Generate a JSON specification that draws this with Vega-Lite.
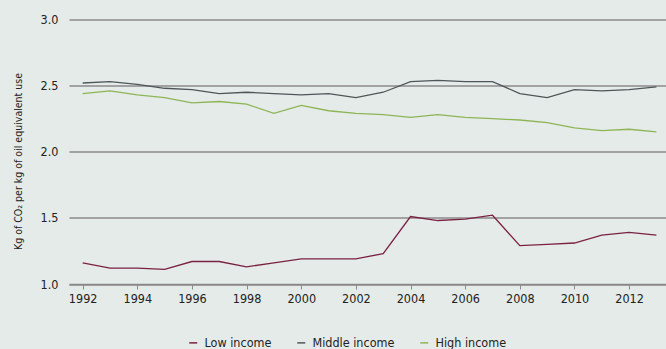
{
  "$schema": "https://vega.github.io/schema/vega-lite/v6.json",
  "autosize": {"type": "none"},
  "width": 597,
  "height": 264.5,
  "padding": {"left": 69, "top": 19.5, "right": 0, "bottom": 65},
  "background": "#e5ebe8",
  "config": {
    "font": "DejaVu Sans Condensed, Roboto",
    "view": {"stroke": null},
    "axis": {"labelFont": "DejaVu Sans Condensed, Roboto", "titleFont": "DejaVu Sans Condensed, Roboto", "labelColor": "#222", "titleColor": "#222"},
    "legend": {"labelFont": "DejaVu Sans Condensed, Roboto"}
  },
  "data": {
    "values": [
      {"year": 1992, "series": "Low income", "value": 1.16},
      {"year": 1993, "series": "Low income", "value": 1.12},
      {"year": 1994, "series": "Low income", "value": 1.12},
      {"year": 1995, "series": "Low income", "value": 1.11},
      {"year": 1996, "series": "Low income", "value": 1.17},
      {"year": 1997, "series": "Low income", "value": 1.17},
      {"year": 1998, "series": "Low income", "value": 1.13},
      {"year": 1999, "series": "Low income", "value": 1.16},
      {"year": 2000, "series": "Low income", "value": 1.19},
      {"year": 2001, "series": "Low income", "value": 1.19},
      {"year": 2002, "series": "Low income", "value": 1.19},
      {"year": 2003, "series": "Low income", "value": 1.23},
      {"year": 2004, "series": "Low income", "value": 1.51},
      {"year": 2005, "series": "Low income", "value": 1.48},
      {"year": 2006, "series": "Low income", "value": 1.49},
      {"year": 2007, "series": "Low income", "value": 1.52},
      {"year": 2008, "series": "Low income", "value": 1.29},
      {"year": 2009, "series": "Low income", "value": 1.30},
      {"year": 2010, "series": "Low income", "value": 1.31},
      {"year": 2011, "series": "Low income", "value": 1.37},
      {"year": 2012, "series": "Low income", "value": 1.39},
      {"year": 2013, "series": "Low income", "value": 1.37},
      {"year": 1992, "series": "Middle income", "value": 2.52},
      {"year": 1993, "series": "Middle income", "value": 2.53},
      {"year": 1994, "series": "Middle income", "value": 2.51},
      {"year": 1995, "series": "Middle income", "value": 2.48},
      {"year": 1996, "series": "Middle income", "value": 2.47},
      {"year": 1997, "series": "Middle income", "value": 2.44},
      {"year": 1998, "series": "Middle income", "value": 2.45},
      {"year": 1999, "series": "Middle income", "value": 2.44},
      {"year": 2000, "series": "Middle income", "value": 2.43},
      {"year": 2001, "series": "Middle income", "value": 2.44},
      {"year": 2002, "series": "Middle income", "value": 2.41},
      {"year": 2003, "series": "Middle income", "value": 2.45},
      {"year": 2004, "series": "Middle income", "value": 2.53},
      {"year": 2005, "series": "Middle income", "value": 2.54},
      {"year": 2006, "series": "Middle income", "value": 2.53},
      {"year": 2007, "series": "Middle income", "value": 2.53},
      {"year": 2008, "series": "Middle income", "value": 2.44},
      {"year": 2009, "series": "Middle income", "value": 2.41},
      {"year": 2010, "series": "Middle income", "value": 2.47},
      {"year": 2011, "series": "Middle income", "value": 2.46},
      {"year": 2012, "series": "Middle income", "value": 2.47},
      {"year": 2013, "series": "Middle income", "value": 2.49},
      {"year": 1992, "series": "High income", "value": 2.44},
      {"year": 1993, "series": "High income", "value": 2.46},
      {"year": 1994, "series": "High income", "value": 2.43},
      {"year": 1995, "series": "High income", "value": 2.41},
      {"year": 1996, "series": "High income", "value": 2.37},
      {"year": 1997, "series": "High income", "value": 2.38},
      {"year": 1998, "series": "High income", "value": 2.36},
      {"year": 1999, "series": "High income", "value": 2.29},
      {"year": 2000, "series": "High income", "value": 2.35},
      {"year": 2001, "series": "High income", "value": 2.31},
      {"year": 2002, "series": "High income", "value": 2.29},
      {"year": 2003, "series": "High income", "value": 2.28},
      {"year": 2004, "series": "High income", "value": 2.26},
      {"year": 2005, "series": "High income", "value": 2.28},
      {"year": 2006, "series": "High income", "value": 2.26},
      {"year": 2007, "series": "High income", "value": 2.25},
      {"year": 2008, "series": "High income", "value": 2.24},
      {"year": 2009, "series": "High income", "value": 2.22},
      {"year": 2010, "series": "High income", "value": 2.18},
      {"year": 2011, "series": "High income", "value": 2.16},
      {"year": 2012, "series": "High income", "value": 2.17},
      {"year": 2013, "series": "High income", "value": 2.15}
    ]
  },
  "mark": {"type": "line", "strokeWidth": 1.3},
  "encoding": {
    "x": {
      "field": "year",
      "type": "quantitative",
      "scale": {"domain": [1991.5, 2013.35], "nice": false, "zero": false},
      "axis": {
        "title": null,
        "values": [1992, 1994, 1996, 1998, 2000, 2002, 2004, 2006, 2008, 2010, 2012],
        "format": "d",
        "grid": false,
        "domain": true,
        "domainColor": "#8a8a8a",
        "domainWidth": 1.5,
        "ticks": true,
        "tickColor": "#8a8a8a",
        "tickSize": 5,
        "labelFontSize": 12.5,
        "labelPadding": 3
      }
    },
    "y": {
      "field": "value",
      "type": "quantitative",
      "scale": {"domain": [1, 3], "nice": false, "zero": false},
      "axis": {
        "title": "Kg of CO₂ per kg of oil equivalent use",
        "titleFontSize": 10.5,
        "titleFontWeight": "normal",
        "titlePadding": 17,
        "titleY": 141.5,
        "values": [1, 1.5, 2, 2.5, 3],
        "format": ".1f",
        "domain": false,
        "ticks": false,
        "grid": true,
        "gridColor": "#8a8a8a",
        "gridWidth": 1.5,
        "labelFontSize": 12.5,
        "labelPadding": 11
      }
    },
    "color": {
      "field": "series",
      "type": "nominal",
      "sort": ["Low income", "Middle income", "High income"],
      "scale": {
        "domain": ["Low income", "Middle income", "High income"],
        "range": ["#7b2143", "#4f5658", "#8db556"]
      },
      "legend": {
        "title": null,
        "orient": "none",
        "direction": "horizontal",
        "legendX": 118,
        "legendY": 317,
        "symbolType": "stroke",
        "symbolSize": 64,
        "symbolStrokeWidth": 1.5,
        "labelFontSize": 12.5,
        "labelColor": "#222",
        "labelOffset": 5,
        "columnPadding": 22
      }
    }
  }
}
